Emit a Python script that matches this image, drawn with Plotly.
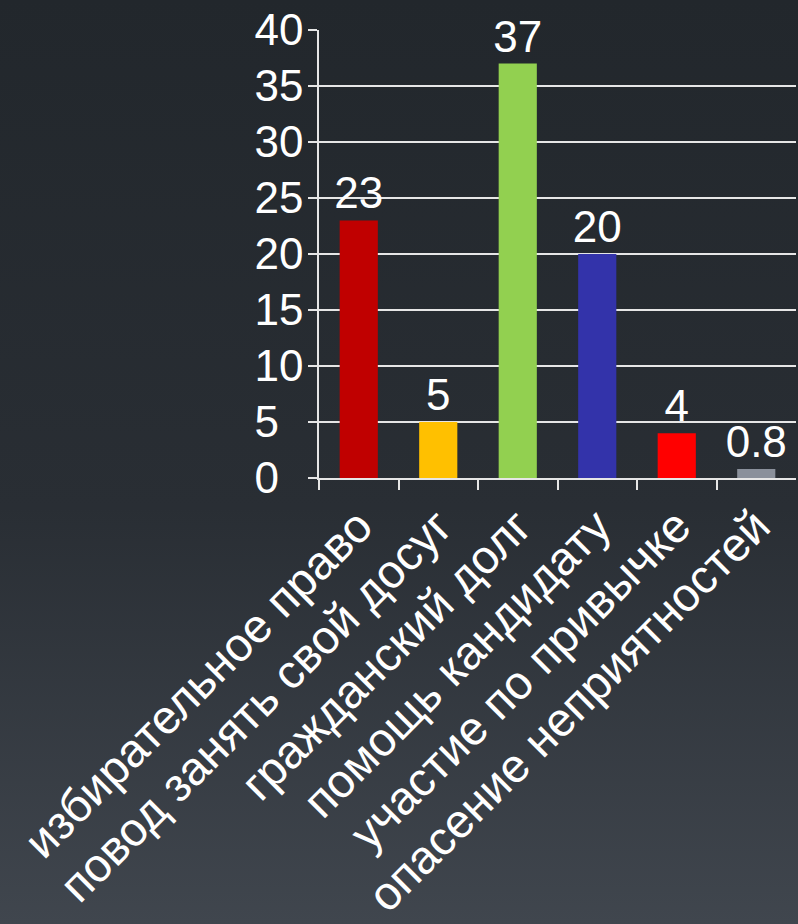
"""Bar chart: reasons for voting (percent of respondents)."""
import base64

import plotly.graph_objects as go

CATEGORIES = [
    "избирательное право",
    "повод занять свой досуг",
    "гражданский долг",
    "помощь кандидату",
    "участие по привычке",
    "опасение неприятностей",
]
VALUES = [23, 5, 37, 20, 4, 0.8]
LABELS = ["23", "5", "37", "20", "4", "0.8"]
COLORS = ["#c00000", "#ffc000", "#92d050", "#3333aa", "#ff0000", "#8a909b"]

Y_TICKS = [0, 5, 10, 15, 20, 25, 30, 35, 40]
# single digits are left-aligned in the original; pad with a figure space
Y_TICK_TEXT = ["0\u2007", "5\u2007", "10", "15", "20", "25", "30", "35", "40"]

FONT = "Liberation Sans, Arial, sans-serif"
W, H = 798, 924

# dark slide background with a soft vertical gradient
_svg = (
    '<svg xmlns="http://www.w3.org/2000/svg" width="100" height="100" preserveAspectRatio="none">'
    '<defs><linearGradient id="g" x1="0" y1="0" x2="0" y2="1">'
    '<stop offset="0" stop-color="#22272c"/>'
    '<stop offset="0.55" stop-color="#292e34"/>'
    '<stop offset="1" stop-color="#40464e"/>'
    '</linearGradient></defs>'
    '<rect width="100" height="100" fill="url(#g)"/></svg>'
)
BG = "data:image/svg+xml;base64," + base64.b64encode(_svg.encode()).decode()

fig = go.Figure()
fig.add_bar(
    x=CATEGORIES,
    y=VALUES,
    marker=dict(color=COLORS, line=dict(width=0)),
    text=LABELS,
    textposition="outside",
    textfont=dict(family=FONT, size=44, color="white"),
    constraintext="none",
    cliponaxis=False,
    hoverinfo="skip",
)

fig.update_layout(
    width=W,
    height=H,
    margin=dict(l=0, r=0, t=0, b=0),
    paper_bgcolor="#22272c",
    plot_bgcolor="rgba(0,0,0,0)",
    showlegend=False,
    bargap=0.52,
    font=dict(family=FONT, color="white"),
    images=[dict(source=BG, xref="paper", yref="paper", x=0, y=1, sizex=1, sizey=1,
                 sizing="stretch", layer="below")],
)
fig.update_xaxes(
    domain=[319 / W, 796 / W],
    tickangle=-45,
    tickson="boundaries",
    ticks="outside",
    ticklen=10,
    tickcolor="#e6e6e6",
    tickwidth=1.5,
    showline=True,
    linecolor="#e6e6e6",
    linewidth=1.5,
    showgrid=False,
    tickfont=dict(family=FONT, size=47, color="white"),
    automargin=False,
)
fig.update_yaxes(
    domain=[(H - 478) / H, (H - 30) / H],
    range=[0, 40],
    tickmode="array",
    tickvals=Y_TICKS,
    ticktext=Y_TICK_TEXT,
    ticks="outside",
    ticklen=9,
    tickcolor="#e6e6e6",
    tickwidth=1.5,
    ticklabelstandoff=-4,
    showline=True,
    linecolor="#e6e6e6",
    linewidth=1.5,
    gridcolor="#e6e6e6",
    gridwidth=1.5,
    zeroline=False,
    tickfont=dict(family=FONT, size=44, color="white"),
    automargin=False,
)

# page has a default body margin; drop it so the figure fills the window
fig.write_html(
    "out.html",
    config={"displayModeBar": False},
    post_script="document.body.style.margin='0';document.body.style.overflow='hidden';",
)
